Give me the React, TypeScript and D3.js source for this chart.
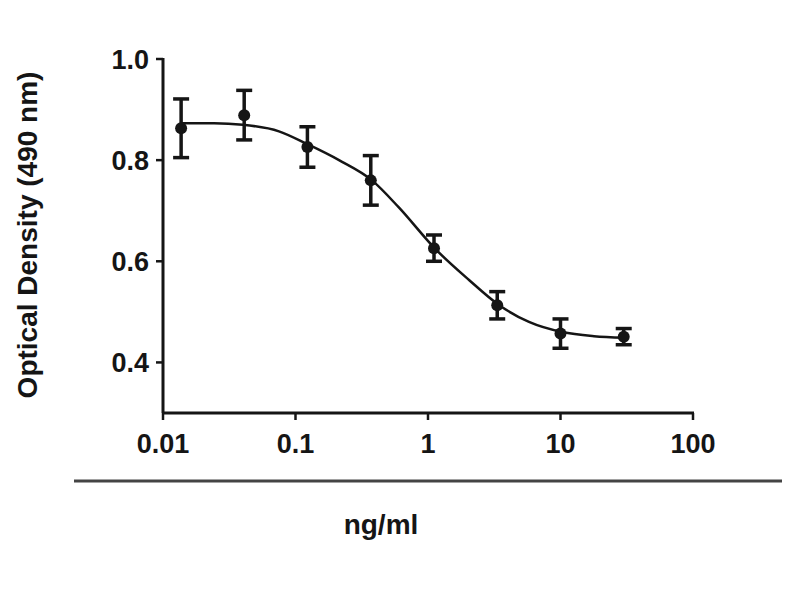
import * as d3 from 'd3';

// concentrations (ng/ml), 3-fold serial dilution
const conc = [0.0137, 0.041, 0.123, 0.37, 1.11, 3.33, 10, 30];
const od = [0.863, 0.889, 0.826, 0.76, 0.626, 0.513, 0.457, 0.451];
const sem = [0.058, 0.049, 0.04, 0.049, 0.026, 0.027, 0.029, 0.016];

// fitted curve
const fitX = [0.0137, 0.0243, 0.04, 0.075, 0.122, 0.213, 0.378, 0.6, 1.13, 2.04, 3.37, 5.78, 10.3, 17.9, 30];
const fitY = [0.873, 0.873, 0.87, 0.857, 0.832, 0.8, 0.76, 0.707, 0.625, 0.563, 0.515, 0.48, 0.46, 0.452, 0.449];

const xTicks = [0.01, 0.1, 1, 10, 100];
const xTickLabels = ['0.01', '0.1', '1', '10', '100'];
const yTicks = [0.4, 0.6, 0.8, 1.0];

const font = '"Liberation Sans", Arial, sans-serif';
const ink = '#151515';

export default function App() {
    const left = 163, right = 693, top = 59, bottom = 413;

    const x = d3.scaleLog().domain([0.01, 100]).range([left, right]);
    const y = d3.scaleLinear().domain([0.3, 1.0]).range([bottom, top]);

    const line = d3.line<number>()
        .x((_, i) => x(fitX[i]))
        .y(d => y(d))
        .curve(d3.curveMonotoneX);

    const cap = 8;

    return (
        <svg width={800} height={600} style={{ position: 'absolute', left: 0, top: 0, background: '#fff' }}>
            {/* y axis */}
            <line x1={left} x2={left} y1={top - 1} y2={bottom} stroke={ink} strokeWidth={3} />
            {yTicks.map(t => (
                <g key={t}>
                    <line x1={left - 7} x2={left} y1={y(t)} y2={y(t)} stroke={ink} strokeWidth={2.5} />
                    <text x={left - 14} y={y(t)} dy="0.36em" textAnchor="end"
                        fontFamily={font} fontWeight="bold" fontSize={27} fill={ink}>
                        {t.toFixed(1)}
                    </text>
                </g>
            ))}

            {/* x axis */}
            <line x1={left - 1} x2={right + 1} y1={bottom} y2={bottom} stroke={ink} strokeWidth={3} />
            {xTicks.map((t, i) => (
                <g key={t}>
                    <line x1={x(t)} x2={x(t)} y1={bottom} y2={bottom + 7} stroke={ink} strokeWidth={2.5} />
                    <text x={x(t)} y={453} textAnchor="middle"
                        fontFamily={font} fontWeight="bold" fontSize={27} fill={ink}>
                        {xTickLabels[i]}
                    </text>
                </g>
            ))}

            {/* separator line */}
            <line x1={74} x2={782} y1={481} y2={481} stroke="#444" strokeWidth={3} />

            {/* axis titles */}
            <text x={381} y={534} textAnchor="middle"
                fontFamily={font} fontWeight="bold" fontSize={28} fill={ink}>ng/ml</text>
            <text transform={`translate(37, 235) rotate(-90)`} textAnchor="middle"
                fontFamily={font} fontWeight="bold" fontSize={28} fill={ink}>
                Optical Density (490 nm)
            </text>

            {/* fitted curve */}
            <path d={line(fitY) ?? ''} fill="none" stroke={ink} strokeWidth={2.5} />

            {/* points with error bars */}
            {conc.map((c, i) => {
                const cx = x(c);
                const y1 = y(od[i] + sem[i]);
                const y2 = y(od[i] - sem[i]);
                return (
                    <g key={c} stroke={ink} strokeWidth={3.5}>
                        <line x1={cx} x2={cx} y1={y1} y2={y2} />
                        <line x1={cx - cap} x2={cx + cap} y1={y1} y2={y1} />
                        <line x1={cx - cap} x2={cx + cap} y1={y2} y2={y2} />
                        <circle cx={cx} cy={y(od[i])} r={6} fill={ink} stroke="none" />
                    </g>
                );
            })}
        </svg>
    );
}
